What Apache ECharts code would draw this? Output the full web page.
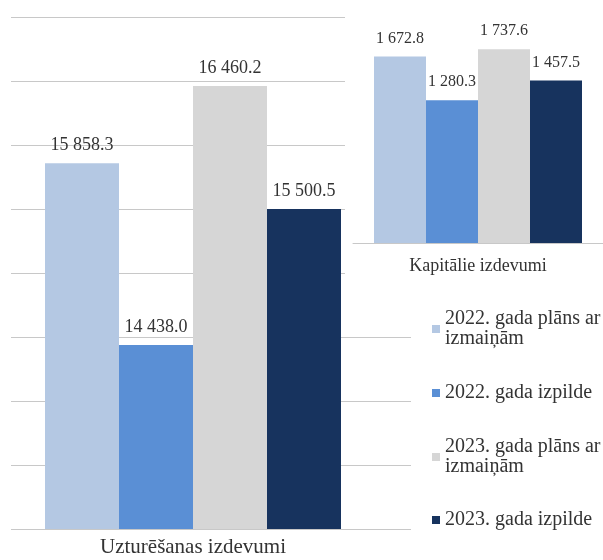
<!DOCTYPE html>
<html>
<head>
<meta charset="utf-8">
<script src="https://cdn.jsdelivr.net/npm/echarts@6/dist/echarts.min.js"></script>
<style>
  html, body { margin: 0; padding: 0; background: #ffffff; }
  #chart { width: 603px; height: 560px; }
</style>
</head>
<body>
<div id="chart"></div>
<script>
// ---- data ----
const categoriesLeft = ['Uzturēšanas izdevumi'];
const categoriesRight = ['Kapitālie izdevumi'];
const seriesNames = [
  '2022. gada plāns ar izmaiņām',
  '2022. gada izpilde',
  '2023. gada plāns ar izmaiņām',
  '2023. gada izpilde'
];
const maintenanceValues = [15858.3, 14438.0, 16460.2, 15500.5];
const capitalValues = [1672.8, 1280.3, 1737.6, 1457.5];
const leftTicks = { min: 13000, max: 17000, interval: 500 };
const rightTicks = { min: 0, max: 2000 };

const colors = ['#B4C8E3', '#5A8FD5', '#D6D6D6', '#17335E'];
const FONT = 'Liberation Serif';

function fmt(v) {
  const s = v.toFixed(1);
  const parts = s.split('.');
  return parts[0].replace(/\B(?=(\d{3})+(?!\d))/g, ' ') + '.' + parts[1];
}

const series = [];
seriesNames.forEach(function (name, i) {
  series.push({
    name: name,
    type: 'bar',
    xAxisIndex: 1,
    yAxisIndex: 1,
    barWidth: 74,
    barGap: '0%',
    data: [maintenanceValues[i]],
    itemStyle: { color: colors[i] },
    label: {
      show: true, position: 'top', distance: 9,
      fontFamily: FONT, fontSize: 18, color: '#333333',
      formatter: function (p) { return fmt(p.value); }
    },
    z: 2
  });
});
seriesNames.forEach(function (name, i) {
  series.push({
    name: name,
    type: 'bar',
    xAxisIndex: 2,
    yAxisIndex: 2,
    barWidth: 52,
    barGap: '0%',
    data: [capitalValues[i]],
    itemStyle: { color: colors[i] },
    label: {
      show: true, position: 'top', distance: 10,
      fontFamily: FONT, fontSize: 16, color: '#333333',
      formatter: function (p) { return fmt(p.value); }
    },
    z: 4
  });
});

function legendFor(i, top) {
  const twoLine = seriesNames[i].indexOf('izmaiņām') >= 0;
  return {
    orient: 'vertical',
    left: 432,
    top: top,
    padding: 0,
    itemWidth: 8,
    itemHeight: 8,
    icon: 'rect',
    selectedMode: false,
    data: [{
      name: seriesNames[i],
      itemStyle: { color: colors[i] },
      textStyle: twoLine ? { padding: [20, 0, 0, 0] } : {}
    }],
    formatter: function (name) { return name.replace(' izmaiņām', '\nizmaiņām'); },
    textStyle: { fontFamily: FONT, fontSize: 20, lineHeight: 20, color: '#333333' }
  };
}

const option = {
  backgroundColor: '#ffffff',
  animation: false,
  graphic: [{
    type: 'rect',
    shape: { x: 345, y: 0, width: 258, height: 300 },
    style: { fill: '#ffffff' },
    z: 1,
    silent: true
  }],
  legend: [legendFor(0, 299), legendFor(1, 383), legendFor(2, 427), legendFor(3, 510)],
  grid: [
    { left: 11, top: 17, width: 400, height: 512 },
    { left: 11, top: 17, width: 364, height: 512 },
    { left: 353, top: 20, width: 250, height: 223 }
  ],
  xAxis: [
    { type: 'category', gridIndex: 0, data: [''], show: false },
    {
      type: 'category', gridIndex: 1, data: categoriesLeft,
      axisLine: { show: false }, axisTick: { show: false },
      axisLabel: { fontFamily: FONT, fontSize: 21, color: '#333333', margin: 8 }
    },
    {
      type: 'category', gridIndex: 2, data: categoriesRight, z: 5,
      axisLine: { show: true, lineStyle: { color: '#c8c8c8', width: 1 } },
      axisTick: { show: false },
      axisLabel: { fontFamily: FONT, fontSize: 18, color: '#333333', margin: 14 }
    }
  ],
  yAxis: [
    {
      type: 'value', gridIndex: 0,
      min: leftTicks.min, max: leftTicks.max, interval: leftTicks.interval,
      axisLabel: { show: false }, axisLine: { show: false }, axisTick: { show: false },
      splitLine: { show: true, lineStyle: { color: '#c8c8c8', width: 1 } }
    },
    {
      type: 'value', gridIndex: 1,
      min: leftTicks.min, max: leftTicks.max, interval: leftTicks.interval,
      show: false
    },
    {
      type: 'value', gridIndex: 2,
      min: rightTicks.min, max: rightTicks.max,
      show: false
    }
  ],
  series: series
};

const chart = echarts.init(document.getElementById('chart'), null, { renderer: 'canvas' });
chart.setOption(option);
</script>
</body>
</html>
